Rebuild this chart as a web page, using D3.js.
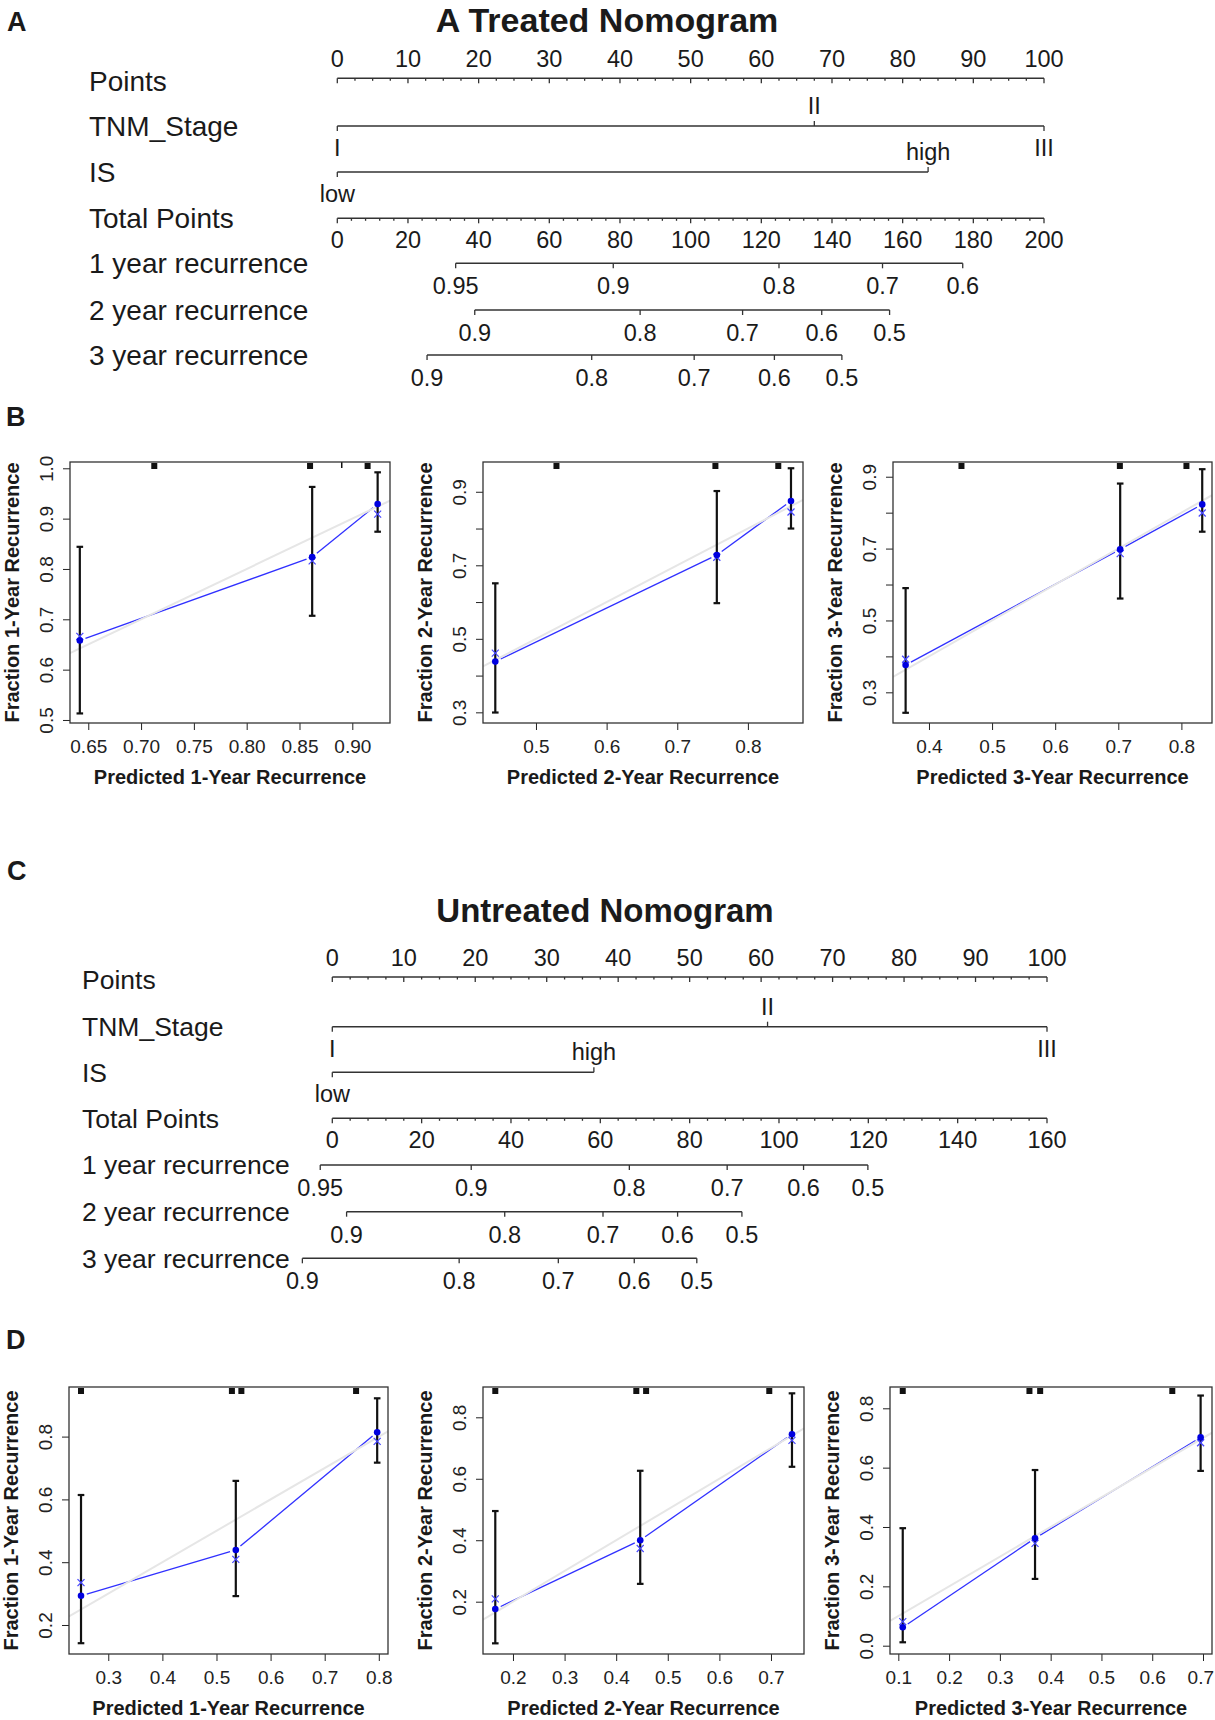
<!DOCTYPE html>
<html>
<head>
<meta charset="utf-8">
<script src="https://cdn.jsdelivr.net/npm/d3@7"></script>
<style>
  body { margin: 0; background: #fff; }
  svg { display: block; font-family: "Liberation Sans", Arial, Helvetica, sans-serif; }
</style>
</head>
<body>
<script>
// ---------- nomogram data ----------
const nomoRows = ["Points", "TNM_Stage", "IS", "Total Points", "1 year recurrence", "2 year recurrence", "3 year recurrence"];
const stageLevels = ["I", "II", "III"];
const isLevels = ["low", "high"];
const pointTicks = d3.range(0, 101, 10);

// A: treated
const treatedStagePts = [0, 67.5, 100];
const treatedIsPts = [0, 83.6];
const treatedTotalMax = 200;
const treatedRisk1 = [0.95, 0.9, 0.8, 0.7, 0.6];
const treatedRisk1Total = [33.5, 78.1, 125, 154.3, 177];
const treatedRisk2 = [0.9, 0.8, 0.7, 0.6, 0.5];
const treatedRisk2Total = [38.9, 85.7, 114.7, 137.1, 156.3];
const treatedRisk3 = [0.9, 0.8, 0.7, 0.6, 0.5];
const treatedRisk3Total = [25.4, 72, 101, 123.7, 142.8];

// C: untreated
const untreatedStagePts = [0, 60.9, 100];
const untreatedIsPts = [0, 36.6];
const untreatedTotalMax = 160;
const untreatedRisk1 = [0.95, 0.9, 0.8, 0.7, 0.6, 0.5];
const untreatedRisk1Total = [-2.7, 31.1, 66.5, 88.4, 105.5, 119.9];
const untreatedRisk2 = [0.9, 0.8, 0.7, 0.6, 0.5];
const untreatedRisk2Total = [3.2, 38.6, 60.6, 77.3, 91.7];
const untreatedRisk3 = [0.9, 0.8, 0.7, 0.6, 0.5];
const untreatedRisk3Total = [-6.7, 28.4, 50.6, 67.6, 81.6];

// ---------- calibration data (pred, observed, bias-corrected, CI) ----------
const calB1 = [
  {pred: 0.642, obs: 0.658, corr: 0.666, lo: 0.513, hi: 0.844},
  {pred: 0.862, obs: 0.8235, corr: 0.816, lo: 0.707, hi: 0.963},
  {pred: 0.924, obs: 0.929, corr: 0.909, lo: 0.874, hi: 0.992}];
const calB2 = [
  {pred: 0.4424, obs: 0.438, corr: 0.461, lo: 0.2995, hi: 0.651},
  {pred: 0.756, obs: 0.728, corr: 0.722, lo: 0.597, hi: 0.902},
  {pred: 0.861, obs: 0.875, corr: 0.845, lo: 0.80, hi: 0.964}];
const calB3 = [
  {pred: 0.363, obs: 0.376, corr: 0.392, lo: 0.243, hi: 0.59},
  {pred: 0.703, obs: 0.698, corr: 0.686, lo: 0.561, hi: 0.881},
  {pred: 0.833, obs: 0.823, corr: 0.799, lo: 0.747, hi: 0.921}];
const calD1 = [
  {pred: 0.2496, obs: 0.293, corr: 0.335, lo: 0.142, hi: 0.614},
  {pred: 0.5357, obs: 0.439, corr: 0.409, lo: 0.292, hi: 0.659},
  {pred: 0.797, obs: 0.814, corr: 0.785, lo: 0.717, hi: 0.922}];
const calD2 = [
  {pred: 0.1657, obs: 0.176, corr: 0.209, lo: 0.0645, hi: 0.495},
  {pred: 0.4466, obs: 0.40, corr: 0.373, lo: 0.258, hi: 0.626},
  {pred: 0.7407, obs: 0.745, corr: 0.725, lo: 0.639, hi: 0.878}];
const calD3 = [
  {pred: 0.1087, obs: 0.062, corr: 0.081, lo: 0.0115, hi: 0.396},
  {pred: 0.3692, obs: 0.362, corr: 0.345, lo: 0.225, hi: 0.592},
  {pred: 0.6953, obs: 0.702, corr: 0.684, lo: 0.589, hi: 0.843}];

// distribution of predictions (rug at top of each plot)
const rugB1 = [0.7125, 0.86, 0.9145];
const rugB2 = [0.529, 0.754, 0.843];
const rugB3 = [0.4515, 0.7025, 0.808];
const rugD1 = [0.2496, 0.5285, 0.546, 0.758];
const rugD2 = [0.1657, 0.439, 0.458, 0.6967];
const rugD3 = [0.1087, 0.3582, 0.3793, 0.6395];

// axis ticks
const b1XTicks = [0.65, 0.70, 0.75, 0.80, 0.85, 0.90];
const b1YTicks = [0.5, 0.6, 0.7, 0.8, 0.9, 1.0];
const b2XTicks = [0.5, 0.6, 0.7, 0.8];
const b3XTicks = [0.4, 0.5, 0.6, 0.7, 0.8];
const bYTicks = [0.3, 0.4, 0.5, 0.6, 0.7, 0.8, 0.9];
const bYLabels = [0.3, 0.5, 0.7, 0.9];
const d1XTicks = [0.3, 0.4, 0.5, 0.6, 0.7, 0.8];
const d2XTicks = [0.2, 0.3, 0.4, 0.5, 0.6, 0.7];
const d3XTicks = [0.1, 0.2, 0.3, 0.4, 0.5, 0.6, 0.7];
const dYTicks = [0.2, 0.4, 0.6, 0.8];
const d3YTicks = [0.0, 0.2, 0.4, 0.6, 0.8];

// ---------- drawing ----------
const W = 1215, H = 1720;
const ink = "#1a1a1a";
const svg = d3.select("body").append("svg").attr("width", W).attr("height", H);

// panel letters
[["A", 7, 31], ["B", 6, 426], ["C", 7, 880], ["D", 6, 1349]].forEach(([t, x, y]) =>
  svg.append("text").attr("x", x).attr("y", y).attr("font-size", 27)
    .attr("font-weight", "bold").attr("fill", ink).text(t));

function hline(g, xa, xb, y) {
  g.append("line").attr("x1", xa).attr("x2", xb).attr("y1", y).attr("y2", y)
    .attr("stroke", "#333").attr("stroke-width", 1.5);
}
function vtick(g, x, y, len) {
  g.append("line").attr("x1", x).attr("x2", x).attr("y1", y).attr("y2", y + len)
    .attr("stroke", "#333").attr("stroke-width", 1.3);
}
function label(g, x, y, t, size) {
  g.append("text").attr("x", x).attr("y", y).attr("text-anchor", "middle")
    .attr("font-size", size || 23.5).attr("fill", ink).text(t);
}

function drawNomogram(L, S) {
  const g = svg.append("g");
  const pts = d3.scaleLinear().domain([0, 100]).range([L.x0, L.x1]);
  const tot = d3.scaleLinear().domain([0, S.totalMax]).range([L.x0, L.x1]);
  const ry = L.rowY;

  g.append("text").attr("x", L.titleX).attr("y", L.titleY).attr("text-anchor", "middle")
    .attr("font-size", L.titleSize).attr("font-weight", "bold").attr("fill", ink).text(S.title);

  nomoRows.forEach((r, i) =>
    g.append("text").attr("x", L.labelX).attr("y", ry[i] + (i === 0 ? 3 : 0)).attr("dy", "0.35em")
      .attr("font-size", L.labelSize).attr("fill", ink).text(r));

  // Points scale
  hline(g, pts(0), pts(100), ry[0]);
  d3.range(0, 100.01, 2.5).forEach(v => vtick(g, pts(v), ry[0], v % 10 === 0 ? 5 : 2.5));
  pointTicks.forEach(v => label(g, pts(v), ry[0] - 11, v));

  // factor rows
  [[stageLevels, S.stagePts, ry[1]], [isLevels, S.isPts, ry[2]]].forEach(([levels, p, y]) => {
    hline(g, pts(d3.min(p)), pts(d3.max(p)), y);
    levels.forEach((lv, i) => {
      const below = i % 2 === 0;
      vtick(g, pts(p[i]), y, below ? 5 : -5);
      label(g, pts(p[i]), below ? y + 30 : y - 12, lv);
    });
  });

  // Total points scale
  hline(g, tot(0), tot(S.totalMax), ry[3]);
  d3.range(0, S.totalMax + 0.01, 4).forEach(v => vtick(g, tot(v), ry[3], v % 20 === 0 ? 5 : 2.5));
  d3.range(0, S.totalMax + 1, 20).forEach(v => label(g, tot(v), ry[3] + 30, v));

  // risk rows
  [[S.risk1, S.risk1Total, ry[4]], [S.risk2, S.risk2Total, ry[5]], [S.risk3, S.risk3Total, ry[6]]]
    .forEach(([lab, tp, y]) => {
      hline(g, tot(d3.min(tp)), tot(d3.max(tp)), y);
      tp.forEach((v, i) => {
        vtick(g, tot(v), y, 5);
        label(g, tot(v), y + 31, lab[i]);
      });
    });
}

drawNomogram(
  {x0: 337.3, x1: 1044, labelX: 89, labelSize: 28, titleX: 607, titleY: 32, titleSize: 34,
   rowY: [78.3, 126, 172, 218.3, 263.3, 310, 355]},
  {title: "A Treated Nomogram", stagePts: treatedStagePts, isPts: treatedIsPts,
   totalMax: treatedTotalMax,
   risk1: treatedRisk1, risk1Total: treatedRisk1Total,
   risk2: treatedRisk2, risk2Total: treatedRisk2Total,
   risk3: treatedRisk3, risk3Total: treatedRisk3Total});

drawNomogram(
  {x0: 332.3, x1: 1047, labelX: 82, labelSize: 26.5, titleX: 605, titleY: 922, titleSize: 33,
   rowY: [977, 1026.7, 1072.3, 1118.3, 1165, 1211.7, 1258.3]},
  {title: "Untreated Nomogram", stagePts: untreatedStagePts, isPts: untreatedIsPts,
   totalMax: untreatedTotalMax,
   risk1: untreatedRisk1, risk1Total: untreatedRisk1Total,
   risk2: untreatedRisk2, risk2Total: untreatedRisk2Total,
   risk3: untreatedRisk3, risk3Total: untreatedRisk3Total});

// ---------- calibration plots ----------
const calPanels = [
  {id: "B1", data: calB1, rug: rugB1, thin: [0.89], yr: 1, box: [70, 462, 390, 723],
   xDom: [0.6327, 0.9357], yDom: [0.494, 1.0125], xTicks: b1XTicks, xFmt: ".2f", yTicks: b1YTicks, yLabels: b1YTicks},
  {id: "B2", data: calB2, rug: rugB2, thin: [], yr: 2, box: [483, 462, 803, 723],
   xDom: [0.425, 0.878], yDom: [0.271, 0.981], xTicks: b2XTicks, xFmt: ".1f", yTicks: bYTicks, yLabels: bYLabels},
  {id: "B3", data: calB3, rug: rugB3, thin: [], yr: 3, box: [893, 462, 1212, 723],
   xDom: [0.343, 0.8485], yDom: [0.2146, 0.941], xTicks: b3XTicks, xFmt: ".1f", yTicks: bYTicks, yLabels: bYLabels},
  {id: "D1", data: calD1, rug: rugD1, thin: [], yr: 1, box: [69, 1387, 388, 1654],
   xDom: [0.2274, 0.817], yDom: [0.1076, 0.958], xTicks: d1XTicks, xFmt: ".1f", yTicks: dYTicks, yLabels: dYTicks},
  {id: "D2", data: calD2, rug: rugD2, thin: [], yr: 2, box: [483, 1387, 804, 1654],
   xDom: [0.1419, 0.764], yDom: [0.0298, 0.8986], xTicks: d2XTicks, xFmt: ".1f", yTicks: dYTicks, yLabels: dYTicks},
  {id: "D3", data: calD3, rug: rugD3, thin: [], yr: 3, box: [890, 1387, 1212, 1654],
   xDom: [0.0836, 0.7177], yDom: [-0.028, 0.8718], xTicks: d3XTicks, xFmt: ".1f", yTicks: d3YTicks, yLabels: d3YTicks}
];

const blue = "#3030ff";

function drawCal(P) {
  const [x0, y0, x1, y1] = P.box;
  const x = d3.scaleLinear().domain(P.xDom).range([x0, x1]);
  const y = d3.scaleLinear().domain(P.yDom).range([y1, y0]);
  const g = svg.append("g");

  svg.append("clipPath").attr("id", "clip" + P.id).append("rect")
    .attr("x", x0).attr("y", y0).attr("width", x1 - x0).attr("height", y1 - y0);
  const inner = g.append("g").attr("clip-path", `url(#clip${P.id})`);

  // axes
  const fmtX = d3.format(P.xFmt), fmtY = d3.format(".1f");
  const ax = g.append("g").attr("transform", `translate(0,${y1})`)
    .call(d3.axisBottom(x).tickValues(P.xTicks).tickFormat(fmtX).tickSize(7).tickPadding(10));
  ax.select(".domain").remove();
  ax.attr("font-size", 19).attr("font-family", null).attr("color", "#222");
  // keep the last label inside the page
  ax.selectAll("text").each(function () {
    const r = this.getBoundingClientRect().right;
    if (r > W - 1) d3.select(this).attr("dx", -(r - W + 1));
  });

  const ay = g.append("g").attr("transform", `translate(${x0},0)`)
    .call(d3.axisLeft(y).tickValues(P.yTicks)
      .tickFormat(d => P.yLabels.includes(d) ? fmtY(d) : "").tickSize(7));
  ay.select(".domain").remove();
  ay.attr("font-size", 19).attr("font-family", null).attr("color", "#222");
  ay.selectAll("text").attr("x", null).attr("dy", null).attr("text-anchor", "middle")
    .attr("dominant-baseline", "central").attr("transform", "translate(-24,0) rotate(-90)");

  // axis titles
  g.append("text").attr("x", (x0 + x1) / 2).attr("y", y1 + 54).attr("dominant-baseline", "central")
    .attr("text-anchor", "middle").attr("font-size", 20).attr("font-weight", "bold").attr("fill", ink)
    .text(`Predicted ${P.yr}-Year Recurrence`);
  g.append("text").attr("transform", `translate(${x0 - 58},${(y0 + y1) / 2}) rotate(-90)`)
    .attr("dominant-baseline", "central").attr("text-anchor", "middle")
    .attr("font-size", 20).attr("font-weight", "bold").attr("fill", ink)
    .text(`Fraction ${P.yr}-Year Recurrence`);

  // observed line, drawn with gaps around the points (type "b")
  const gap = 6;
  for (let i = 0; i < P.data.length - 1; i++) {
    const a = P.data[i], b = P.data[i + 1];
    const ax0 = x(a.pred), ay0 = y(a.obs), bx = x(b.pred), by = y(b.obs);
    const len = Math.hypot(bx - ax0, by - ay0), ux = (bx - ax0) / len, uy = (by - ay0) / len;
    inner.append("line")
      .attr("x1", ax0 + ux * gap).attr("y1", ay0 + uy * gap)
      .attr("x2", bx - ux * gap).attr("y2", by - uy * gap)
      .attr("stroke", blue).attr("stroke-width", 1.3);
  }

  // ideal line (drawn over the blue line)
  const t0 = Math.max(P.xDom[0], P.yDom[0]), t1 = Math.min(P.xDom[1], P.yDom[1]);
  inner.append("line").attr("x1", x(t0)).attr("y1", y(t0)).attr("x2", x(t1)).attr("y2", y(t1))
    .attr("stroke", "#e6e6e6").attr("stroke-width", 2);

  // error bars
  const eb = inner.selectAll("g.eb").data(P.data).join("g").attr("class", "eb")
    .attr("stroke", "#111").attr("stroke-width", 2.2);
  eb.append("line").attr("x1", d => x(d.pred)).attr("x2", d => x(d.pred))
    .attr("y1", d => y(d.lo)).attr("y2", d => y(d.hi));
  eb.append("line").attr("x1", d => x(d.pred) - 3.3).attr("x2", d => x(d.pred) + 3.3)
    .attr("y1", d => y(d.lo)).attr("y2", d => y(d.lo));
  eb.append("line").attr("x1", d => x(d.pred) - 3.3).attr("x2", d => x(d.pred) + 3.3)
    .attr("y1", d => y(d.hi)).attr("y2", d => y(d.hi));

  // bias-corrected estimates (x marks)
  const xm = inner.selectAll("g.xm").data(P.data).join("g").attr("class", "xm")
    .attr("stroke", "#4646ff").attr("stroke-width", 1.2);
  xm.append("line").attr("x1", d => x(d.pred) - 3.5).attr("x2", d => x(d.pred) + 3.5)
    .attr("y1", d => y(d.corr) - 3.5).attr("y2", d => y(d.corr) + 3.5);
  xm.append("line").attr("x1", d => x(d.pred) - 3.5).attr("x2", d => x(d.pred) + 3.5)
    .attr("y1", d => y(d.corr) + 3.5).attr("y2", d => y(d.corr) - 3.5);

  // observed points
  inner.selectAll("circle.obs").data(P.data).join("circle").attr("class", "obs")
    .attr("cx", d => x(d.pred)).attr("cy", d => y(d.obs)).attr("r", 3.3).attr("fill", "#0000e0");

  // rug of predictions along the top
  inner.selectAll("rect.rug").data(P.rug).join("rect").attr("class", "rug")
    .attr("x", d => x(d) - 3).attr("y", y0 + 1).attr("width", 6).attr("height", 6).attr("fill", "#111");
  inner.selectAll("rect.thin").data(P.thin).join("rect").attr("class", "thin")
    .attr("x", d => x(d) - 0.75).attr("y", y0).attr("width", 1.5).attr("height", 6).attr("fill", "#111");

  // frame
  g.append("rect").attr("x", x0).attr("y", y0).attr("width", x1 - x0).attr("height", y1 - y0)
    .attr("fill", "none").attr("stroke", "#333").attr("stroke-width", 1.3);
}

calPanels.forEach(drawCal);
</script>
</body>
</html>
